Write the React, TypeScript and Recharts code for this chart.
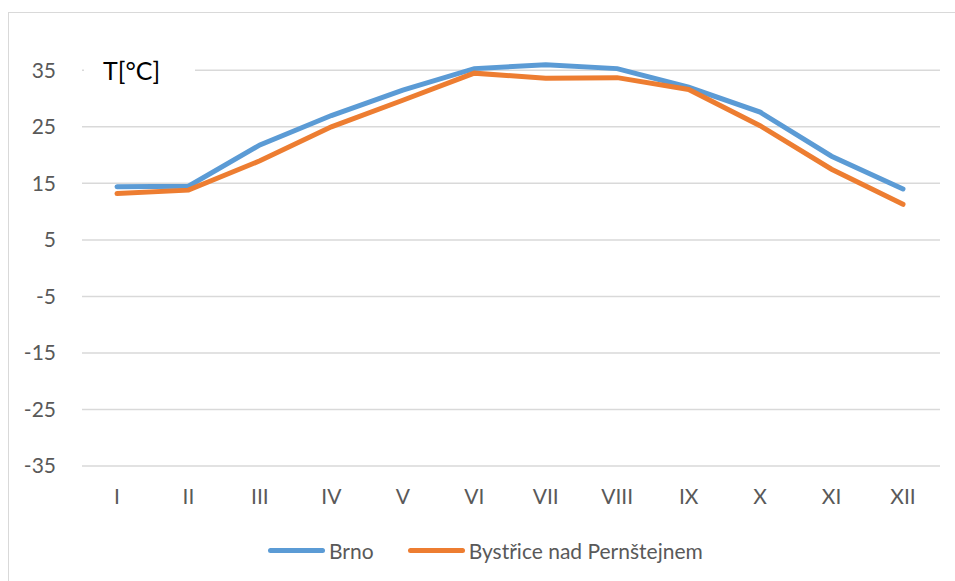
import { CartesianGrid, Line, LineChart, XAxis, YAxis } from 'recharts';

const months = ['I', 'II', 'III', 'IV', 'V', 'VI', 'VII', 'VIII', 'IX', 'X', 'XI', 'XII'];
const brno = [14.4, 14.5, 21.8, 27.0, 31.5, 35.3, 36.0, 35.3, 32.0, 27.6, 19.8, 14.0];
const bystrice = [13.2, 13.8, 19.0, 25.0, 29.7, 34.5, 33.6, 33.7, 31.6, 25.2, 17.5, 11.3];
const yTicks = [-35, -25, -15, -5, 5, 15, 25, 35];
const series = [
  { key: 'brno', label: 'Brno', color: '#5B9BD5' },
  { key: 'bystrice', label: 'Bystřice nad Pernštejnem', color: '#ED7D31' },
];

const data = months.map((m, i) => ({ month: m, brno: brno[i], bystrice: bystrice[i] }));

const font = 'Lato, "Open Sans", sans-serif';
const tickStyle = { fontSize: 21, fill: '#595959', fontFamily: font };

export default function App(): JSX.Element {
  return (
    <div style={{ position: 'absolute', left: 0, top: 0, width: 955, height: 581, background: '#fff', overflow: 'hidden' }}>
      <div style={{ position: 'absolute', left: 8, top: 12, width: 960, height: 600, border: '1px solid #D9D9D9' }} />
      <div style={{ position: 'absolute', left: 0, top: 0 }}>
        <LineChart width={955} height={581} data={data} margin={{ top: 59, right: 15, bottom: 75, left: 0 }}>
          <CartesianGrid vertical={false} horizontalValues={yTicks} stroke="#D9D9D9" strokeWidth={1.5} />
          <XAxis
            dataKey="month"
            axisLine={false}
            tickLine={false}
            tickSize={0}
            tickMargin={23}
            height={40}
            padding={{ left: 35, right: 37 }}
            tick={tickStyle}
          />
          <YAxis
            domain={[-35, 37]}
            ticks={yTicks}
            axisLine={false}
            tickLine={false}
            tickSize={0}
            tickMargin={26}
            width={82}
            tick={tickStyle}
          />
          {series.map((s) => (
            <Line
              key={s.key}
              type="linear"
              dataKey={s.key}
              name={s.label}
              stroke={s.color}
              strokeWidth={5}
              dot={false}
              strokeLinecap="round"
              isAnimationActive={false}
            />
          ))}
        </LineChart>
      </div>
      <div style={{ position: 'absolute', left: 84, top: 52, width: 111, height: 36, background: '#fff', fontFamily: font, fontSize: 25, color: '#000', lineHeight: '36px', paddingLeft: 19, boxSizing: 'border-box' }}>
        T[°C]
      </div>
      <div style={{ position: 'absolute', left: 268, top: 536, height: 28, display: 'flex', alignItems: 'center', fontFamily: font, fontSize: 21, color: '#595959' }}>
        {series.map((s, i) => (
          <div key={s.key} style={{ display: 'flex', alignItems: 'center', marginLeft: i === 0 ? 0 : 34 }}>
            <span style={{ display: 'inline-block', width: 57, height: 5, borderRadius: 3, background: s.color, marginRight: 4 }} />
            <span>{s.label}</span>
          </div>
        ))}
      </div>
    </div>
  );
}
